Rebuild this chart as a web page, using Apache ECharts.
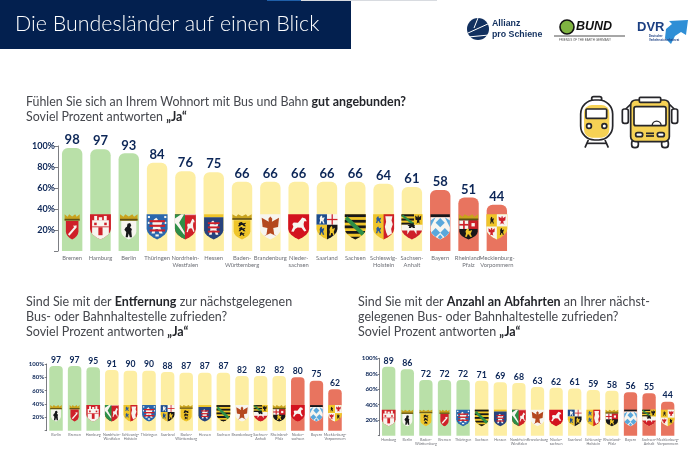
<!DOCTYPE html>
<html><head><meta charset="utf-8">
<style>html,body{margin:0;padding:0;background:#fff}#c{width:700px;height:462px}</style>
<script src="https://cdn.jsdelivr.net/npm/echarts@6/dist/echarts.min.js"></script>
</head><body><div id="c"></div>
<script>
const cat1 = ["Bremen","Hamburg","Berlin","Thüringen","Nordrhein-\nWestfalen","Hessen","Baden-\nWürttemberg","Brandenburg","Nieder-\nsachsen","Saarland","Sachsen","Schleswig-\nHolstein","Sachsen-\nAnhalt","Bayern","Rheinland-\nPfalz","Mecklenburg-\nVorpommern"];
const val1 = [98,97,93,84,76,75,66,66,66,66,66,64,61,58,51,44];
const tier1 = [0,0,0,1,1,1,1,1,1,1,1,1,1,2,2,2];
const cat2 = ["Berlin","Bremen","Hamburg","Nordrhein-\nWestfalen","Schleswig-\nHolstein","Thüringen","Saarland","Baden-\nWürttemberg","Hessen","Sachsen","Brandenburg","Sachsen-\nAnhalt","Rheinland-\nPfalz","Nieder-\nsachsen","Bayern","Mecklenburg-\nVorpommern"];
const val2 = [97,97,95,91,90,90,88,87,87,87,82,82,82,80,75,62];
const tier2 = [0,0,0,1,1,1,1,1,1,1,1,1,1,2,2,2];
const cat3 = ["Hamburg","Berlin","Baden-\nWürttemberg","Bremen","Thüringen","Sachsen","Hessen","Nordrhein-\nWestfalen","Brandenburg","Nieder-\nsachsen","Saarland","Schleswig-\nHolstein","Rheinland-\nPfalz","Bayern","Sachsen-\nAnhalt","Mecklenburg-\nVorpommern"];
const val3 = [89,86,72,72,72,71,69,68,63,62,61,59,58,56,55,44];
const tier3 = [0,0,0,0,0,1,1,1,1,1,1,1,1,2,2,2];
const TIER = ['#b9e0a8','#fdeea3','#e8745f'];
const NAVY = '#0c2657', FONT = 'Lato';

/* ---------- coats of arms (decoration, unit box 100 x 120) ---------- */
const R=(a,b,c,d)=>[a,b,c,b,c,d,a,d];
const G=(g,x,y,w,h)=>g.map((v,i)=>i%2?y+v*h/100:x+v*w/100);
const LION=[15,95,25,60,20,35,30,15,45,5,55,15,50,28,65,30,85,20,80,40,70,60,85,95,65,95,55,70,40,70,35,95];
const BEAR=[25,100,30,65,15,50,25,35,35,30,40,10,60,5,70,20,60,35,75,45,70,60,75,100,58,100,50,75,42,100];
const EAGLE=[50,5,60,15,58,30,95,10,90,55,65,60,70,90,85,100,50,85,15,100,30,90,35,60,10,55,5,10,42,30,40,15];
const HORSE=[8,92,20,62,14,44,22,34,46,36,62,14,70,2,88,8,96,26,82,26,78,44,80,60,94,88,82,92,66,68,44,66,30,76,22,94];
const GOLD='#efc52a',RED='#cf2029',BLK='#17171a',BLU='#2a67ad',GRN='#2d8f47',WHT='#f7f5ef';
const stripes=(y0,y1,n,x0=0,x1=100)=>{const o=[],h=(y1-y0)/n;for(let i=0;i<n;i+=2)o.push([BLK,R(x0,y0+i*h,x1,y0+(i+1)*h)]);return o;};
const ARMS={
 'Bremen':{crown:1,box:[20,32,80,120],fill:RED,parts:[[WHT,[30,95,65,55,72,62,37,102]],[WHT,G(EAGLE,55,50,18,18)]]},
 'Hamburg':{box:[0,0,100,120],fill:RED,parts:[[WHT,R(10,28,90,120)],[WHT,R(20,8,34,30)],[WHT,R(66,8,80,30)],[WHT,R(42,14,58,30)],[RED,R(40,62,60,100)],[RED,R(20,40,32,52)],[RED,R(68,40,80,52)],[RED,R(10,58,90,62)]]},
 'Berlin':{crown:1,box:[14,32,86,120],fill:WHT,parts:[[BLK,G(BEAR,20,38,60,72)]]},
 'Thüringen':{box:[0,0,100,120],fill:BLU,parts:[[WHT,R(6,8,16,18)],[WHT,R(84,8,94,18)],[WHT,R(6,36,14,46)],[WHT,R(86,36,94,46)],[WHT,R(42,96,58,106)],[WHT,G(LION,12,12,76,84)],[RED,R(14,28,88,38)],[RED,R(14,50,88,60)],[RED,R(14,72,88,82)]]},
 'Nordrhein-Westfalen':{box:[0,0,100,120],fill:RED,parts:[[GRN,[0,0,48,0,48,120,0,120]],[WHT,[0,20,30,0,44,0,20,40,46,86,46,100,8,50,0,42]],[WHT,[46,0,100,0,100,4,46,4]],[WHT,G(HORSE,52,20,44,70)]]},
 'Hessen':{box:[4,14,96,120],fill:'#27437d',top:[GOLD,0,14],parts:[[WHT,G(LION,18,26,64,76)],[RED,R(22,38,78,47)],[RED,R(22,58,78,67)],[RED,R(22,78,78,87)]]},
 'Baden-Württemberg':{crown:1,box:[10,28,90,120],fill:GOLD,parts:[[BLK,G(LION,22,36,56,22)],[BLK,G(LION,26,60,48,22)],[BLK,G(LION,32,84,36,20)]]},
 'Brandenburg':{box:[0,0,100,120],fill:WHT,parts:[[ '#b4481f',G(EAGLE,4,6,92,100)]]},
 'Nieder-sachsen':{box:[0,0,100,120],fill:'#d3121e',parts:[[WHT,G(HORSE,8,14,84,74)]]},
 'Saarland':{box:[0,0,100,120],fill:WHT,parts:[[ '#1d4c8c',R(0,0,50,50)],[WHT,G(LION,8,4,36,42)],[RED,R(72,0,78,50)],[RED,R(50,22,100,28)],[GOLD,R(0,50,50,120)],[BLK,R(50,50,100,120)],[GOLD,G(LION,54,54,40,50)],[ '#1d4c8c',G(LION,8,56,34,44)]]},
 'Sachsen':{box:[0,0,100,120],fill:GOLD,parts:[...stripes(0,120,9),[GRN,[0,22,12,10,100,92,100,112,90,112]]]},
 'Schleswig-Holstein':{box:[0,0,100,120],fill:GOLD,parts:[[ '#2c5b99',G(LION,8,8,36,36)],[ '#2c5b99',G(LION,8,56,36,36)],[RED,R(50,0,100,120)],[WHT,[58,10,92,10,88,30,94,48,86,70,90,92,70,104,62,86,56,60,62,36]]]},
 'Sachsen-Anhalt':{box:[0,0,100,120],fill:GOLD,parts:[...stripes(0,50,5,0,60),[GRN,[0,8,8,2,60,42,60,50,52,50]],[GOLD,R(60,0,100,50)],[BLK,G(EAGLE,64,2,32,44)],[WHT,R(0,50,100,120)],[BLK,G(BEAR,20,42,60,24)],[RED,R(0,74,100,120)],[WHT,[0,68,100,68,100,78,72,78,72,96,60,78,40,78,28,96,28,78,0,78]]]},
 'Bayern':{box:[4,14,96,120],fill:WHT,top:[BLK,0,14],parts:[[ '#5aa8dc',[4,30,28,14,4,60]],[ '#5aa8dc',[50,18,72,40,50,62,28,40]],[ '#5aa8dc',[96,30,72,14,96,62]],[ '#5aa8dc',[28,66,50,88,28,108,6,88]],[ '#5aa8dc',[72,66,94,88,72,110,50,88]],[ '#5aa8dc',[50,96,62,110,50,120,38,110]]]},
 'Rheinland-Pfalz':{crown:1,box:[6,30,94,120],fill:BLK,parts:[[WHT,R(6,30,50,70)],[RED,R(50,30,94,70)],[RED,R(24,30,32,70)],[RED,R(6,46,50,54)],[WHT,R(64,42,80,58)],[GOLD,G(LION,26,66,48,44)]]},
 'Mecklenburg-Vorpommern':{box:[0,0,100,120],fill:GOLD,parts:[[BLK,G(LION,14,10,26,36)],[WHT,R(50,0,100,58)],[RED,G(EAGLE,56,6,38,44)],[WHT,R(0,58,50,120)],[RED,G(EAGLE,8,62,34,42)],[BLK,G(LION,60,64,28,36)]]}
};
const SH=[0,0,100,0,100,70,96,85,86,98,70,110,50,120,30,110,14,98,4,85,0,70];
function clip(p,c){let o=[];for(let i=0;i<p.length;i+=2)o.push([p[i],p[i+1]]);
 for(let j=0;j<c.length;j++){const a=c[j],b=c[(j+1)%c.length],n=[];
  const s=q=>(b[0]-a[0])*(q[1]-a[1])-(b[1]-a[1])*(q[0]-a[0]);
  for(let k=0;k<o.length;k++){const u=o[k],v=o[(k+1)%o.length],su=s(u),sv=s(v);
   if(su>=0)n.push(u);
   if((su>=0)!==(sv>=0)){const t=su/(su-sv);n.push([u[0]+t*(v[0]-u[0]),u[1]+t*(v[1]-u[1])]);}}
  o=n;if(!o.length)break;}
 return o;}
function shieldIn(b){const out=[];for(let i=0;i<SH.length;i+=2)out.push([b[0]+SH[i]*(b[2]-b[0])/100,b[1]+SH[i+1]*(b[3]-b[1])/120]);return out;}
function arms(cats,anchor){return function(params,api){
 const name=cats[params.dataIndex].replace('\n','');const A=ARMS[name];
 const c=api.coord([api.value(0),anchor]);const s=api.size([1,0])[0]*0.74/100;
 const ox=c[0]-50*s,oy=c[1]-60*s;const T=p=>p.map(q=>[ox+q[0]*s,oy+q[1]*s]);
 const ch=[];const sh=shieldIn(A.box);
 const add=(col,pts)=>{if(pts.length>2)ch.push({type:'polygon',shape:{points:T(pts)},style:{fill:col},silent:true});};
 if(A.crown){const h=A.box[1]-2,x0=Math.max(A.box[0]-6,4),x1=Math.min(A.box[2]+6,96),w=x1-x0;
  add('#c9a31e',[[x0,h],[x0,0],[x0+w*.2,h*.4],[x0+w*.3,0],[x0+w*.5,h*.35],[x0+w*.7,0],[x0+w*.8,h*.4],[x1,0],[x1,h]]);
  add('#5d4f16',[[x0,h*.72],[x1,h*.72],[x1,h],[x0,h]]);}
 if(A.top)add(A.top[0],[[A.box[0],A.top[1]],[A.box[2],A.top[1]],[A.box[2],A.top[2]],[A.box[0],A.top[2]]]);
 add(A.fill,sh);
 A.parts.forEach(p=>add(p[0],clip(p[1],sh)));
 return {type:'group',children:ch};
};}

/* ---------- panels ---------- */
const panels=[
 {cats:cat1,vals:val1,tier:tier1,grid:{left:58,width:453,top:146,height:105},bw:20.4,rad:6,vf:13,tf:9,cf:5.8,clh:6.7,cm:4,tm:3,tl:4,anchor:23},
 {cats:cat2,vals:val2,tier:tier2,grid:{left:46.7,width:297.6,top:364,height:66.7},bw:13.5,rad:4,vf:8.6,tf:6,cf:3.7,clh:3.9,cm:2.5,tm:2.5,tl:2,anchor:26},
 {cats:cat3,vals:val3,tier:tier3,grid:{left:379.4,width:297.6,top:358.3,height:77.4},bw:13.3,rad:4,vf:8.8,tf:6.3,cf:3.7,clh:3.9,cm:2,tm:1.5,tl:1.5,anchor:23}
];
const grid=[],xAxis=[],yAxis=[],series=[];
panels.forEach((p,i)=>{
 grid.push(p.grid);
 xAxis.push({type:'category',gridIndex:i,data:p.cats,axisLine:{show:false},axisTick:{show:false},
  axisLabel:{interval:0,fontFamily:FONT,fontSize:p.cf,lineHeight:p.clh,color:'#6d6f76',margin:p.cm,hideOverlap:false}});
 yAxis.push({type:'value',gridIndex:i,min:0,max:100,interval:20,splitLine:{show:false},
  axisLine:{show:true,lineStyle:{color:'#5a5d63',width:.8}},axisTick:{show:true,length:p.tl,lineStyle:{color:'#5a5d63',width:.8}},
  axisLabel:{fontFamily:FONT,fontWeight:'bold',fontSize:p.tf,color:NAVY,margin:p.tm,formatter:v=>v===0?'':v+'%'}});
 series.push({type:'bar',xAxisIndex:i,yAxisIndex:i,barWidth:p.bw,animation:false,
  data:p.vals.map((v,k)=>({value:v,itemStyle:{color:TIER[p.tier[k]],borderRadius:[p.rad,p.rad,0,0]}})),
  label:{show:true,position:'top',distance:1.5,fontFamily:FONT,fontWeight:'bold',fontSize:p.vf,color:NAVY}});
 series.push({type:'custom',xAxisIndex:i,yAxisIndex:i,z:5,clip:false,animation:false,silent:true,
  data:p.cats.map((c,k)=>[k,p.anchor]),encode:{x:0,y:1},renderItem:arms(p.cats,p.anchor)});
});

/* ---------- titles ---------- */
const q=(t,x,y,fs,lh)=>({text:t,left:x,top:y,padding:0,textStyle:{fontFamily:FONT,fontWeight:'normal',rich:{
  n:{fontFamily:FONT,fontWeight:'normal',fontSize:fs,color:'#45474d',lineHeight:lh},
  b:{fontFamily:FONT,fontWeight:'bold',fontSize:fs,color:'#23252a',lineHeight:lh}}}});
const title=[
 q('{n|Fühlen Sie sich an Ihrem Wohnort mit Bus und Bahn }{b|gut angebunden?}\n{n|Soviel Prozent antworten }{b|„Ja“}',26,95,12.4,14.6),
 q('{n|Sind Sie mit der }{b|Entfernung}{n| zur nächstgelegenen}\n{n|Bus- oder Bahnhaltestelle zufrieden?}\n{n|Soviel Prozent antworten }{b|„Ja“}',26,295,12.5,14.6),
 q('{n|Sind Sie mit der }{b|Anzahl an Abfahrten}{n| an Ihrer nächst-}\n{n|gelegenen Bus- oder Bahnhaltestelle zufrieden?}\n{n|Soviel Prozent antworten }{b|„Ja“}',358,295,12.5,14.6),
 {text:'Die Bundesländer auf einen Blick',left:15,top:14,padding:0,textStyle:{fontFamily:FONT,fontWeight:300,fontSize:21.4,color:'#fff'}}
];

/* ---------- header, logos, icons (decoration) ---------- */
const Z=(x,y)=>[560+x/3,85+y/3];
const K='#26262a',Y='#f6d255';
const rr=(a,b,c,d,r,st)=>{const p=Z(a,b),q2=Z(c,d);return {type:'rect',shape:{x:p[0],y:p[1],width:q2[0]-p[0],height:q2[1]-p[1],r},style:st};};
const ln=(a,b,c,d)=>{const p=Z(a,b),e=Z(c,d);return {type:'line',shape:{x1:p[0],y1:p[1],x2:e[0],y2:e[1]},style:{stroke:K,lineWidth:1.7}};};
const ci=(a,b,r,st)=>{const p=Z(a,b);return {type:'circle',shape:{cx:p[0],cy:p[1],r},style:st};};
const o=(f)=>({fill:f,stroke:K,lineWidth:1.7});
const txt=(t,x,y,fs,col,extra={})=>({type:'text',x,y,style:Object.assign({text:t,fontFamily:'Liberation Sans',fontSize:fs,fontWeight:'bold',fill:col,verticalAlign:'middle'},extra)});
const graphic=[
 {type:'rect',shape:{x:0,y:0,width:351,height:49},style:{fill:'#03204f'},z:-1},
 {type:'rect',shape:{x:267,y:0,width:34,height:1},style:{fill:'#1f5fa8'}},
 {type:'rect',shape:{x:301,y:0,width:136,height:1},style:{fill:'#d8dbe0'}},
 // Allianz pro Schiene
 {type:'circle',shape:{cx:478,cy:29,r:11},style:{fill:'#12305f'}},
 {type:'line',shape:{x1:468,y1:33,x2:490,y2:23},style:{stroke:'#fff',lineWidth:1}},
 {type:'line',shape:{x1:468,y1:37,x2:489,y2:35},style:{stroke:'#fff',lineWidth:1}},
 {type:'line',shape:{x1:478,y1:18,x2:474,y2:28},style:{stroke:'#fff',lineWidth:1}},
 txt('Allianz',492,24,8.8,'#12305f'),
 txt('pro Schiene',492,35,8.8,'#12305f'),
 // BUND
 {type:'circle',shape:{cx:567,cy:27,r:7},style:{fill:'#7fb341',stroke:'#111',lineWidth:1.6}},
 txt('BUND',576,27,12.5,'#111',{fontStyle:'italic'}),
 {type:'line',shape:{x1:554,y1:36,x2:625,y2:36},style:{stroke:'#222',lineWidth:.8}},
 txt('FRIENDS OF THE EARTH GERMANY',559,40,3,'#555',{fontWeight:'normal'}),
 // DVR
 txt('DVR',637,27,13,'#1b3f82'),
 {type:'polygon',shape:{points:[[665,38],[666,29],[672,24],[669,21],[688,20],[686,35],[681,32],[675,36],[671,44]]},style:{fill:'#2f8fd6'}},
 txt('Deutscher',649,36,2.8,'#1b3f82'),
 txt('Verkehrssicherheitsrat',649,40,2.8,'#1b3f82'),
 // train
 rr(95,35,125,48,2,o('#fff')),
 rr(62,45,158,165,14,o('#fff')),
 rr(72,60,148,158,8,{fill:Y}),
 rr(78,72,140,100,1,o('#fff')),
 ci(87,123,2.4,o('#fff')),ci(133,123,2.4,o('#fff')),
 ln(85,165,75,188),ln(135,165,145,188),ln(80,175,140,175),
 // bus
 rr(187,72,205,115,2,o('#fff')),rr(335,72,353,115,2,o('#fff')),
 ln(197,72,212,58),ln(343,72,328,58),
 rr(215,165,235,188,3,o('#fff')),rr(305,165,325,188,3,o('#fff')),
 rr(212,45,328,170,5,o(Y)),
 rr(238,37,302,52,1,o('#fff')),
 rr(222,65,318,122,2,o('#fff')),
 {type:'arc',shape:{cx:Z(290,122)[0],cy:Z(290,122)[1],r:4.5,startAngle:Math.PI,endAngle:0,clockwise:true},style:{stroke:K,lineWidth:1.4,fill:'none'}},
 rr(227,143,248,155,2,o('#fff')),rr(292,143,313,155,2,o('#fff')),
 ln(258,145,282,145),ln(258,153,282,153)
].map(g=>Object.assign({silent:true},g));

const chart=echarts.init(document.getElementById('c'),null,{renderer:'canvas'});
chart.setOption({backgroundColor:'#fff',animation:false,title,grid,xAxis,yAxis,series,graphic,tooltip:{show:false}});
</script></body></html>
